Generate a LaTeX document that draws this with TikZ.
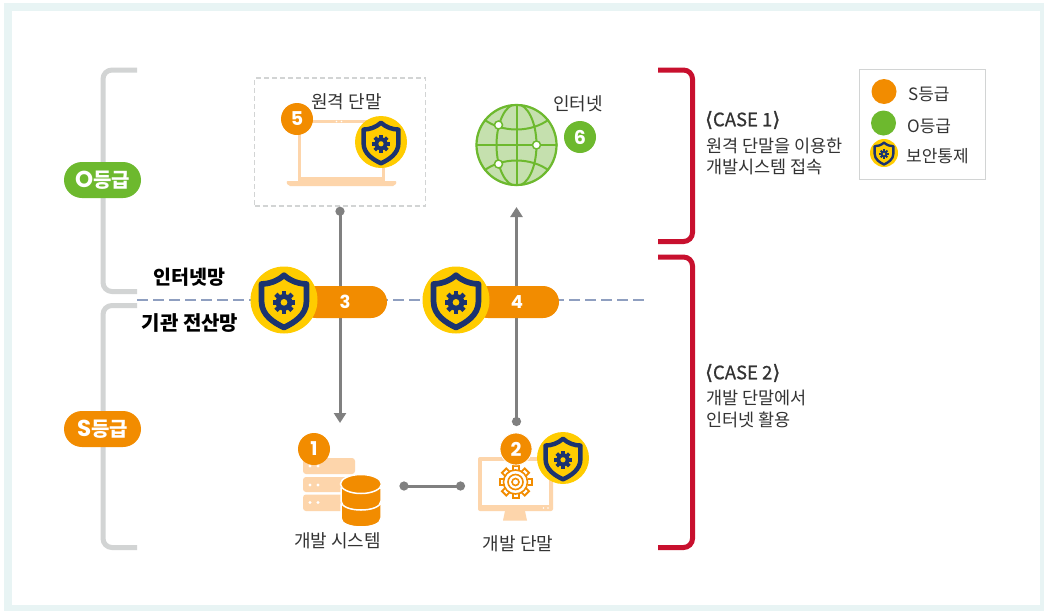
\documentclass[tikz,border=0pt]{standalone}
\usepackage{fontspec}
\setmainfont{Noto Sans CJK KR}
\newfontfamily\popf{Poppins}
\newfontfamily\djf[FakeBold=1.2]{DejaVu Sans}
\newfontfamily\medf[FakeBold=0.6]{Noto Sans CJK KR}
\usetikzlibrary{arrows.meta}
\definecolor{orangeC}{HTML}{F28C00}
\definecolor{greenC}{HTML}{6DB92E}
\definecolor{lightOrange}{HTML}{FDD5AB}
\definecolor{yellowC}{HTML}{FFCC00}
\definecolor{navyC}{HTML}{1B3370}
\definecolor{redC}{HTML}{C8102E}
\definecolor{bracketGray}{HTML}{D2D4D4}
\definecolor{frameC}{HTML}{E8F4F4}
\definecolor{connC}{HTML}{808080}
\definecolor{dashC}{HTML}{8F9FC0}
\definecolor{globeFill}{HTML}{C5E0AE}
\definecolor{textC}{HTML}{333333}
\newcommand{\fs}[1]{\fontsize{#1}{#1}\selectfont}
\newcommand{\secshield}[3]{%
\begin{scope}[shift={(#1,#2)},x=#3pt,y=-#3pt]
\fill[yellowC] (0,0) circle (1);
\draw[navyC,line width={0.17*#3 pt},line join=round,fill=yellowC]
 (0,-.74) .. controls (-.2,-.56) and (-.45,-.48) .. (-.67,-.48) -- (-.67,.05)
 .. controls (-.67,.45) and (-.3,.68) .. (0,.82)
 .. controls (.3,.68) and (.67,.45) .. (.67,.05) -- (.67,-.48)
 .. controls (.45,-.48) and (.2,-.56) .. cycle;
\foreach \a in {0,45,...,315}{\fill[navyC,rotate around={\a:(0,.07)}] (-.07,.07) rectangle (.07,-.27);}
\fill[navyC] (0,.07) circle (.25);
\fill[yellowC] (0,.07) circle (.1);
\end{scope}}
\tikzset{
 bracketL/.style={bracketGray,line width=5pt,rounded corners=9pt},
 bracketR/.style={redC,line width=5pt,rounded corners=9pt},
 conn/.style={connC,line width=3pt},
 badge/.style={circle,fill=#1,text=white,inner sep=0pt,minimum size=32pt,font=\popf\bfseries\fs{19}},
 gradepill/.style={fill=#1,text=white,rounded corners=18pt,minimum width=77pt,minimum height=36pt,inner sep=0pt,font=\bfseries\fs{20}},
 ctrlpill/.style={fill=orangeC,text=white,rounded corners=16pt,minimum height=32pt,inner sep=0pt,font=\popf\bfseries\fs{18}},
 label/.style={text=textC,inner sep=0pt,font=\fs{18}},
 netlabel/.style={text=black,inner sep=0pt,font=\bfseries\fs{19.5}},
 casetext/.style={text=textC,inner sep=0pt,anchor=west,font=\fs{17.5}},
 casehead/.style={text=textC,inner sep=0pt,anchor=west,font=\medf\fs{18.5}},
 legendtext/.style={text=textC,inner sep=0pt,anchor=west,font=\fs{17}},
 lo/.style={fill=lightOrange,draw=none}
}
\begin{document}
\begin{tikzpicture}[x=1pt,y=-1pt]
\useasboundingbox (0,0) rectangle (1044,611);
\fill[white] (0,0) rectangle (1044,611);
\fill[frameC] (4,3) rectangle (1044,611);
\fill[white] (12,11) rectangle (1040,605);
% grade brackets
\draw[bracketL] (137,70) -- (103,70) -- (103,291.5) -- (137,291.5);
\draw[bracketL] (137,305.5) -- (103,305.5) -- (103,547.5) -- (137,547.5);
\node[gradepill=greenC] (gradeO) at (102.5,180) {{\popf\fs{23}O}등급};
\node[gradepill=orangeC] (gradeS) at (102.5,429) {{\popf\fs{23}S}등급};
% case brackets
\draw[bracketR] (658,70) -- (692.5,70) -- (692.5,241.5) -- (658,241.5);
\draw[bracketR] (658,257) -- (692.5,257) -- (692.5,547.5) -- (658,547.5);
% boundary
\coordinate (lineL) at (137,300);
\coordinate (lineR) at (645,300);
\draw[dashC,line width=2pt,dash pattern=on 11pt off 5pt] (lineL) -- (lineR);
\node[netlabel] (inet) at (189.5,277) {인터넷망};
\node[netlabel,font=\bfseries\fs{20}] (inhouse) at (190,323) {기관 전산망};
% remote terminal
\node[draw=bracketGray,dash pattern=on 5pt off 3pt,line width=1.5pt,minimum width=171pt,minimum height=128pt,inner sep=0pt] (termbox) at (340,142) {};
\draw[lightOrange,line width=3.5pt] (299.5,181) -- (299.5,121.5) -- (383.5,121.5) -- (383.5,181);
\fill[lightOrange] (298,176.5) rectangle (385,182);
\fill[lightOrange,rounded corners=2pt] (286,181) -- (397,181) -- (395,186) -- (288,186) -- cycle;
\fill[white] (336.5,121.5) circle (.8) (341.5,121.5) circle (.8);
\node[label] (remote) at (346.5,102) {원격 단말};
\node[badge=orangeC] (b5) at (297,119) {5};
\secshield{381}{142}{26}
% globe
\begin{scope}[shift={(516.5,145)}]
\fill[globeFill] (0,0) circle (41);
\begin{scope}
\clip (0,0) circle (41);
\draw[greenC,line width=2pt] (0,-41) -- (0,41) (-41,0) -- (41,0);
\draw[greenC,line width=2pt] (0,0) ellipse (20 and 41);
\draw[greenC,line width=2pt] (-33,-26) .. controls (-15,-12) and (15,-12) .. (33,-26);
\draw[greenC,line width=2pt] (-33,26) .. controls (-15,12) and (15,12) .. (33,26);
\end{scope}
\draw[greenC,line width=2.2pt] (0,0) circle (40);
\fill[white,draw=greenC,line width=1.5pt] (-18,-20) circle (4) (20,0) circle (4) (-18,19) circle (4);
\end{scope}
\node[label] (internet) at (578,104) {인터넷};
\node[badge=greenC] (b6) at (580,137) {6};
% connectors
\coordinate (c3top) at (termbox.south);
\coordinate (c3bot) at (340,423);
\coordinate (c4bot) at (516.5,426);
\coordinate (c4top) at (516.5,207);
\coordinate (c5a) at (399.5,486);
\coordinate (c5b) at (465,486);
\draw[conn,{Circle[length=9pt,width=9pt]}-{Triangle[length=10pt,width=12pt]}] (c3top) -- (c3bot);
\draw[conn,{Circle[length=9pt,width=9pt]}-{Triangle[length=10pt,width=12pt]}] (c4bot) -- (c4top);
\draw[conn,{Circle[length=9pt,width=9pt]}-{Circle[length=9pt,width=9pt]}] (c5a) -- (c5b);
% controls
\node[ctrlpill,minimum width=87pt] (p3) at (343.5,302) {\hspace*{3pt}3};
\node[ctrlpill,minimum width=87pt] (p4) at (515.5,302) {\hspace*{3pt}4};
\secshield{284}{300}{33.5}
\secshield{456}{300}{33.5}
% server
\fill[lo,rounded corners=3pt] (303,458) rectangle (355,474);
\fill[lo,rounded corners=3pt] (303,477) rectangle (355,492);
\fill[lo,rounded corners=3pt] (303,494.5) rectangle (355,511);
\foreach \y in {466,485,502.5}{\fill[white] (310,\y) circle (1.6) (318,\y) circle (1.6);}
\fill[orangeC,draw=white,line width=1.5pt] (341,504) -- (341,518) .. controls (341,530) and (381,530) .. (381,518) -- (381,504) -- cycle;
\fill[orangeC,draw=white,line width=1.5pt] (341,488) -- (341,501) .. controls (341,513) and (381,513) .. (381,501) -- (381,488) -- cycle;
\fill[orangeC,draw=white,line width=1.5pt] (361,484) ellipse (20.5 and 9.5);
\node[badge=orangeC] (b1) at (314,449) {1};
\node[label] (devsys) at (337.5,541) {개발 시스템};
% monitor
\fill[lo,rounded corners=2pt] (478,457) rectangle (553,511);
\fill[white] (482,461) rectangle (549,505);
\fill[lo] (505,511) -- (525,511) -- (527,520.5) -- (503,520.5) -- cycle;
\fill[white] (543.5,508) circle (.9) (548,508) circle (.9);
\foreach \a in {0,45,...,315}{\fill[orangeC,rotate around={\a:(515.5,482)}] (511.5,470) rectangle (519.5,465);
 \fill[white,rotate around={\a:(515.5,482)}] (513.5,471) rectangle (517.5,467);}
\draw[orangeC,line width=1.6pt,fill=white] (515.5,482) circle (12);
\draw[orangeC,line width=1.6pt] (515.5,482) circle (7.5);
\draw[orangeC,line width=1.6pt] (515.5,482) circle (3.5);
\node[badge=orangeC,draw=white,line width=.8pt] (b2) at (516,449) {2};
\secshield{563}{458}{26}
\node[label] (devterm) at (518,544) {개발 단말};
% case text
\node[casehead] (c1t) at (705,120) {{\djf\fs{20}⟨}CASE 1{\djf\fs{20}⟩}};
\node[casetext] (c1a) at (706,146) {원격 단말을 이용한};
\node[casetext] (c1b) at (706,167) {개발시스템 접속};
\node[casehead] (c2t) at (705,373) {{\djf\fs{20}⟨}CASE 2{\djf\fs{20}⟩}};
\node[casetext] (c2a) at (706,398) {개발 단말에서};
\node[casetext] (c2b) at (706,420) {인터넷 활용};
% legend
\node[draw=bracketGray,line width=1pt,minimum width=126pt,minimum height=110pt,inner sep=0pt] (legend) at (922,124) {};
\fill[orangeC] (884,91.5) circle (12.5);
\fill[greenC] (883.5,123) circle (12.5);
\secshield{884}{153}{14}
\node[legendtext] (ls) at (908,94) {S등급};
\node[legendtext] (lo) at (907,126) {O등급};
\node[legendtext] (lc) at (906,156) {보안통제};
\end{tikzpicture}
\end{document}
